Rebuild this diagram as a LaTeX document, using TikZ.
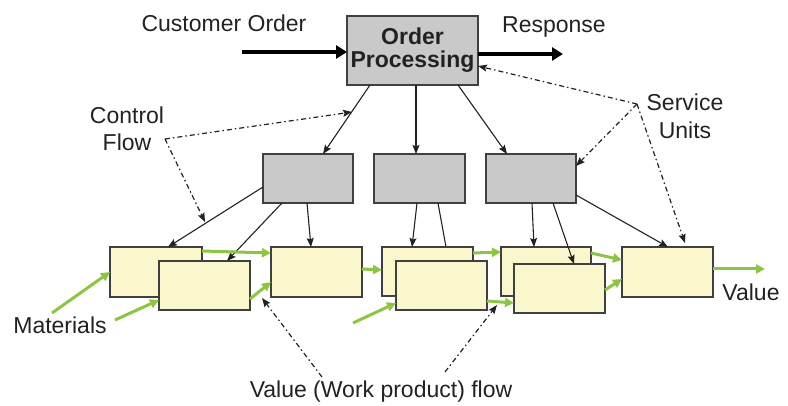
\documentclass[tikz,border=0pt]{standalone}
\usepackage{fontspec}
\setmainfont{Liberation Sans}
\usetikzlibrary{arrows.meta,calc}
\definecolor{unitgray}{RGB}{201,201,201}
\definecolor{stagefill}{RGB}{251,247,204}
\definecolor{edgegray}{RGB}{64,64,64}
\definecolor{flowgreen}{RGB}{140,198,63}
\definecolor{inkdark}{RGB}{34,34,34}
\tikzset{
  lbl/.style={font=\fontsize{23}{27}\selectfont, text=inkdark, inner sep=0pt, align=center},
  unitbox/.style={draw=edgegray, line width=1.5pt, fill=unitgray, minimum width=90pt, minimum height=49pt, inner sep=0pt, outer sep=0pt},
  stagebox/.style={draw=edgegray, line width=1.5pt, fill=stagefill, minimum width=91pt, minimum height=49pt, inner sep=0pt, outer sep=0pt},
  ctrl/.style={draw=inkdark, line width=1.1pt, -{Stealth[length=9pt,width=7pt,inset=1.5pt]}},
  ctrlplain/.style={draw=inkdark, line width=1.1pt},
  bigflow/.style={draw=black, line width=3.5pt, -{Triangle[length=11pt,width=13pt]}},
  greenflow/.style={draw=flowgreen, line width=3pt, -{Triangle[length=9pt,width=9pt]}},
  note/.style={draw=inkdark, line width=1.2pt, dash pattern=on 5pt off 3pt on 1.5pt off 3pt, -{Stealth[length=9pt,width=7pt,inset=1.5pt]}}
}
\begin{document}
\begin{tikzpicture}[x=1pt,y=-1pt]
\useasboundingbox (0,0) rectangle (788,406);

% order processing unit
\node[unitbox, minimum width=131pt, minimum height=69pt, font=\bfseries\fontsize{23}{23}\selectfont, text=inkdark, align=center] (op) at (412.5,50.5) {Order\\Processing};

% service units
\node[unitbox] (s1) at (308,178.5) {};
\node[unitbox, minimum width=91pt] (s2) at (419.5,178.5) {};
\node[unitbox] (s3) at (531,178.5) {};

% line from the second service unit, drawn below the stage boxes
\draw[ctrlplain] ([xshift=64pt]s2.south west) -- (446,247);

% work stages
\node[stagebox, minimum width=92pt, minimum height=50pt] (sa) at (156,272) {};
\node[stagebox] (sb) at (204.5,285.5) {};
\node[stagebox, minimum width=91pt, minimum height=50pt] (sc) at (316.5,272) {};
\node[stagebox] (sd) at (427.5,271.5) {};
\node[stagebox] (se) at (441.5,285.5) {};
\node[stagebox, minimum width=90pt] (sf) at (546,271.5) {};
\node[stagebox] (sg) at (559.5,288.5) {};
\node[stagebox, minimum height=50pt] (sh) at (667.5,272) {};

% labels
\node[lbl] (tco) at (224,23) {Customer Order};
\node[lbl] (tre) at (554,27) {Response};
\node[lbl] (tcf) at (127,128.5) {Control\\[0pt]Flow};
\node[lbl] (tsu) at (685,116) {Service\\[1pt]Units};
\node[lbl] (tma) at (60,325) {Materials};
\node[lbl] (tva) at (751,292) {Value};
\node[lbl] (tvw) at (381,392) {Value (Work product) flow};

% free ends
\coordinate (coin) at (242,52);
\coordinate (reout) at (563,54);
\coordinate (m1) at (52,313);
\coordinate (m2) at (115,320);
\coordinate (m3) at (353,323);
\coordinate (vout) at (765,269);
\coordinate (cf) at (165,139);
\coordinate (cfa) at (352,112);
\coordinate (cfb) at (205,222);
\coordinate (su) at (637,104);
\coordinate (sua) at (685,243);
\coordinate (vf1) at (322,377);
\coordinate (vf1a) at (262,298);
\coordinate (vf2) at (445,372);
\coordinate (vf2a) at (497,305);

% order in, response out
\draw[bigflow] (coin) -- (coin -| op.west);
\draw[bigflow] (reout -| op.east) -- (reout);

% control flow from order processing to the service units
\draw[ctrl] ([xshift=23pt]op.south west) -- ([xshift=60pt]s1.north west);
\draw[ctrl] ([xshift=69pt]op.south west) -- ([xshift=42pt]s2.north west);
\draw[ctrl] ([xshift=111pt]op.south west) -- ([xshift=21pt]s3.north west);

% control flow from the service units to the stages
\draw[ctrl] ([yshift=-33pt]s1.north west) -- ([xshift=58pt]sa.north west);
\draw[ctrl] ([xshift=19pt]s1.south west) -- ([xshift=68pt]sb.north west);
\draw[ctrl] ([xshift=44pt]s1.south west) -- ([xshift=40pt]sc.north west);
\draw[ctrl] ([xshift=43pt]s2.south west) -- ([xshift=30pt]sd.north west);
\draw[ctrl] ([xshift=46pt]s3.south west) -- ([xshift=33pt]sf.north west);
\draw[ctrl] ([xshift=67pt]s3.south west) -- ([xshift=60pt]sg.north west);
\draw[ctrl] ([yshift=8pt]s3.south east) -- ([xshift=46pt]sh.north west);

% value flow between stages
\draw[greenflow] (m1) -- (sa.west);
\draw[greenflow] (m2) -- ([yshift=-39pt]sb.north west);
\draw[greenflow] (m3) -- ([yshift=-42pt]se.north west);
\draw[greenflow] ([yshift=-4pt]sa.north east) -- ([yshift=-6pt]sc.north west);
\draw[greenflow] ([yshift=-38pt]sb.north east) -- ([yshift=-35pt]sc.north west);
\draw[greenflow] ([yshift=-22pt]sc.north east) -- ([yshift=-23pt]sd.north west);
\draw[greenflow] ([yshift=-6pt]sd.north east) -- ([yshift=-5pt]sf.north west);
\draw[greenflow] ([yshift=-40pt]se.north east) -- ([yshift=-39pt]sg.north west);
\draw[greenflow] ([yshift=-6pt]sf.north east) -- ([yshift=-13pt]sh.north west);
\draw[greenflow] ([yshift=-26pt]sg.north east) -- ([yshift=-32pt]sh.north west);
\draw[greenflow] ([yshift=-22pt]sh.north east) -- (vout);

% annotation pointers
\draw[note] (cf) -- (cfa);
\draw[note] (cf) -- (cfb);
\draw[note] (su) -- ([yshift=-50pt]op.north east);
\draw[note] (su) -- ([yshift=-12pt]s3.north east);
\draw[note] (su) -- (sua);
\draw[note] (vf1) -- (vf1a);
\draw[note] (vf2) -- (vf2a);
\end{tikzpicture}
\end{document}
